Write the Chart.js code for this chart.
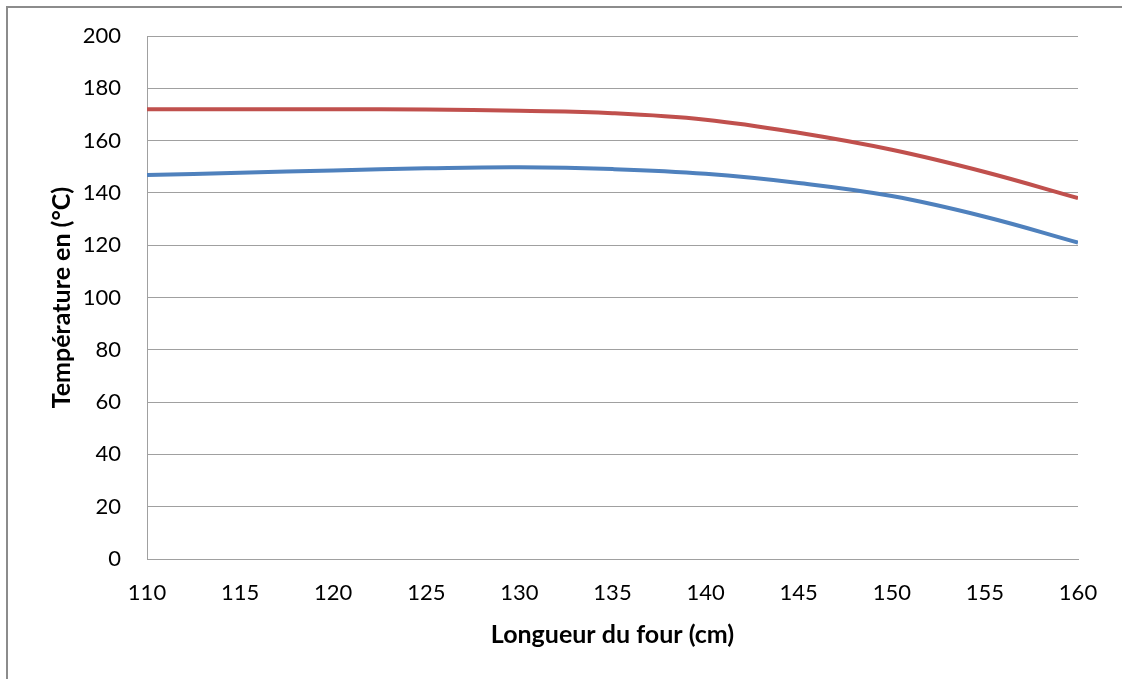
<!DOCTYPE html>
<html>
<head>
<meta charset="utf-8">
<script src="https://cdn.jsdelivr.net/npm/chart.js@4.4.1/dist/chart.umd.min.js"></script>
<style>
  html, body { margin: 0; padding: 0; background: #fff; }
  #wrap { position: relative; width: 1122px; height: 679px; overflow: hidden; }
  #frame {
    position: absolute; left: 6px; top: 6px; width: 1200px; height: 800px;
    border-left: 2px solid #8c8c8c; border-top: 2px solid #8c8c8c;
  }
  #chart { position: absolute; left: 0; top: 0; }
</style>
</head>
<body>
<div id="wrap">
  <div id="frame"></div>
  <canvas id="chart" width="1122" height="679"></canvas>
</div>
<script>
// Data ---

const positions = [110, 115, 120, 125, 130, 135, 140, 145, 150, 155, 160];
const redTemps = [172, 172, 172, 171.9, 171.4, 170.5, 168, 163, 156.5, 148, 138];
const blueTemps = [146.8, 147.7, 148.6, 149.4, 149.8, 149.1, 147.3, 143.8, 138.8, 130.9, 121];

const xTitle = "Longueur du four (cm)";
const yTitle = "Température en (°C)";

const FONT = "Lato, 'Open Sans', sans-serif";

const toPoints = (ys) => positions.map((x, i) => ({ x: x, y: ys[i] }));

const lineStyle = (color) => ({
  borderColor: color,
  backgroundColor: color,
  borderWidth: 4,
  pointRadius: 0,
  tension: 0.4,
  fill: false,
});

const data = {
  datasets: [
    { label: "rouge", data: toPoints(redTemps), ...lineStyle("#c0504d") },
    { label: "bleu", data: toPoints(blueTemps), ...lineStyle("#4f81bd") },
  ],
};

const options = {
  responsive: false,
  animation: false,
  layout: {
    padding: { top: 36, right: 44, bottom: 0, left: 0 },
  },
  plugins: {
    legend: { display: false },
    tooltip: { enabled: false },
  },
  scales: {
    x: {
      type: "linear",
      min: 110,
      max: 160,
      afterFit: (scale) => { scale.height = 120; },
      grid: { display: false, drawTicks: false },
      border: { display: true, color: "#a0a0a0", width: 1 },
      ticks: {
        stepSize: 5,
        padding: 21,
        color: "#000",
        font: { family: FONT, size: 22 },
        maxRotation: 0,
      },
      title: {
        display: true,
        text: xTitle,
        color: "#000",
        font: { family: FONT, size: 25, weight: "bold" },
        padding: { top: 0, bottom: 29 },
      },
    },
    y: {
      min: 0,
      max: 200,
      afterFit: (scale) => {
        scale.width = 147;
        // keep the tick padding from pushing the plot area down
        scale.paddingTop = 0;
        scale.paddingBottom = 0;
      },
      grid: { color: "#a0a0a0", lineWidth: 1, drawTicks: false },
      border: { display: true, color: "#a0a0a0", width: 1 },
      ticks: {
        stepSize: 20,
        padding: 26,
        color: "#000",
        font: { family: FONT, size: 22 },
      },
      title: {
        display: true,
        text: yTitle,
        color: "#000",
        font: { family: FONT, size: 25, weight: "bold" },
        padding: { top: 47, bottom: 0 },
      },
    },
  },
};

new Chart(document.getElementById("chart"), { type: "line", data: data, options: options });
</script>
</body>
</html>
